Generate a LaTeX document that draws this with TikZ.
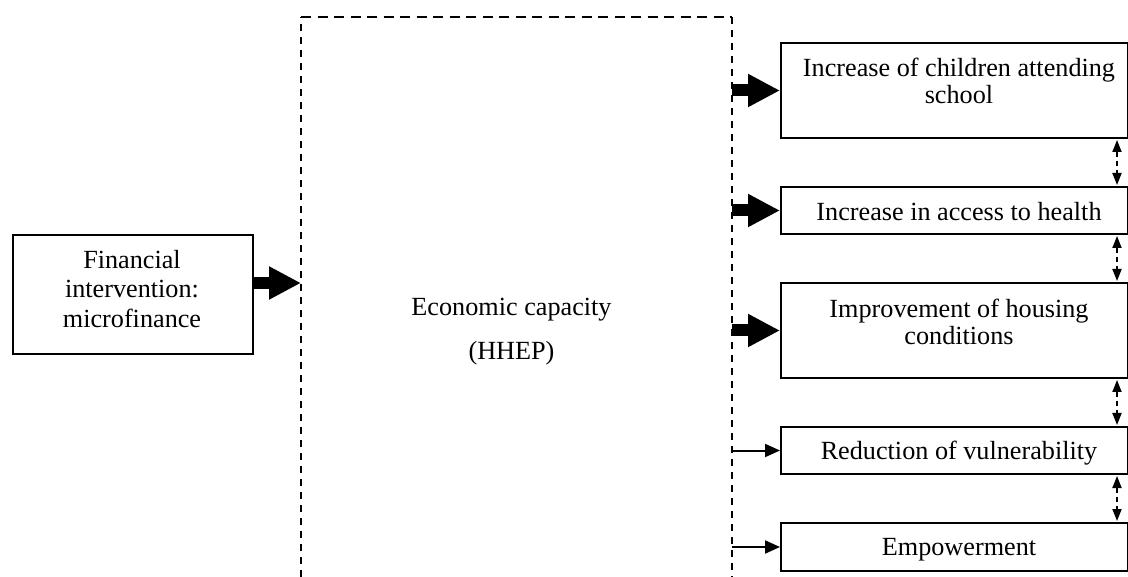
\documentclass[tikz,border=0pt]{standalone}
\usepackage{fontspec}
\setmainfont{Liberation Serif}
\usetikzlibrary{arrows.meta}
\begin{document}
\begin{tikzpicture}[x=1pt,y=-1pt,
  box/.style={draw,line width=2pt,rectangle,inner sep=0pt,anchor=north west},
  lbl/.style={font=\fontsize{26.2}{27}\selectfont,align=center,inner sep=0pt},
  bigarrow/.style={line width=12pt,-{Triangle[length=32pt,width=31pt]}},
  thinarrow/.style={line width=2pt,-{Triangle[length=15pt,width=13pt]}},
  linkarrow/.style={line width=1.8pt,dash pattern=on 5pt off 4pt,
    {Triangle[length=12pt,width=9pt]}-{Triangle[length=12pt,width=9pt]},
    shorten <=1pt,shorten >=1pt},
  vframe/.style={line width=2.2pt,dash pattern=on 7pt off 6pt},
  hframe/.style={line width=2.2pt,dash pattern=on 10pt off 6.5pt}]

\useasboundingbox (0,0) rectangle (1128,577);

% open dashed frame: economic capacity
\coordinate (ftl) at (301,17);
\coordinate (ftr) at (732,17);
\coordinate (fbl) at (301,577);
\coordinate (fbr) at (732,577);
\draw[vframe] (fbl) -- (ftl);
\draw[hframe] (ftl) -- (ftr);
\draw[vframe] (ftr) -- (fbr);
\node[lbl,font=\fontsize{26.2}{44}\selectfont] (ec) at (511.5,332)
  {Economic capacity\\(HHEP)};

% input box
\node[box,minimum width=240pt,minimum height=119pt] (lb) at (12,234) {};
\node[lbl,font=\fontsize{26.2}{29.5}\selectfont] (lbt) at (132,289)
  {Financial\\intervention:\\microfinance};

% outcome boxes
\node[box,minimum width=347pt,minimum height=95pt] (b1) at (780,42) {};
\node[box,minimum width=347pt,minimum height=47pt] (b2) at (780,186) {};
\node[box,minimum width=347pt,minimum height=95pt] (b3) at (780,282) {};
\node[box,minimum width=347pt,minimum height=47pt] (b4) at (780,426) {};
\node[box,minimum width=347pt,minimum height=48pt] (b5) at (780,522) {};

\node[lbl] (t1) at (959,80.8) {Increase of children attending\\school};
\node[lbl] (t2) at (959,211.3) {Increase in access to health};
\node[lbl] (t3) at (959,321.8) {Improvement of housing\\conditions};
\node[lbl] (t4) at (959,453) {Reduction of vulnerability};
\node[lbl] (t5) at (959,549.3) {Empowerment};

% flows
\coordinate (lbout) at ([yshift=11.5pt]lb.east);
\draw[bigarrow] (lbout) -- (ftl |- lbout);
\draw[bigarrow] (ftr |- b1.west) -- (b1.west);
\draw[bigarrow] (ftr |- b2.west) -- (b2.west);
\draw[bigarrow] (ftr |- b3.west) -- (b3.west);
\draw[thinarrow] (ftr |- b4.west) -- (b4.west);
\draw[thinarrow] (ftr |- b5.west) -- (b5.west);

% links between outcomes
\coordinate (ax) at (1117,0);
\draw[linkarrow] (ax |- b1.south) -- (ax |- b2.north);
\draw[linkarrow] (ax |- b2.south) -- (ax |- b3.north);
\draw[linkarrow] (ax |- b3.south) -- (ax |- b4.north);
\draw[linkarrow] (ax |- b4.south) -- (ax |- b5.north);
\end{tikzpicture}
\end{document}
